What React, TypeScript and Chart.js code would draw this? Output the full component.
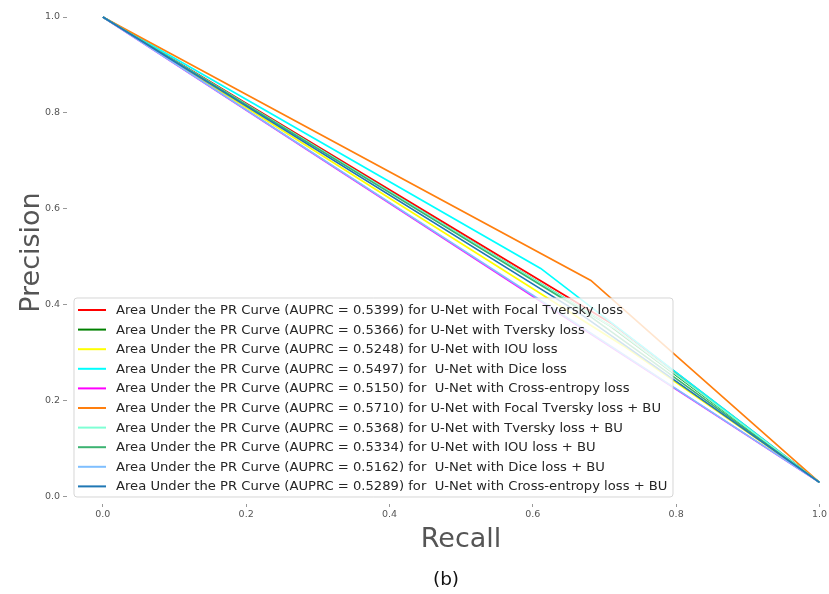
import { useEffect, useRef } from "react";
import { Chart, registerables } from "chart.js";

Chart.register(...registerables);

// Models compared on the precision-recall plane
const modelNames = [
  "U-Net with Focal Tversky loss",
  "U-Net with Tversky loss",
  "U-Net with IOU loss",
  " U-Net with Dice loss",
  " U-Net with Cross-entropy loss",
  "U-Net with Focal Tversky loss + BU",
  "U-Net with Tversky loss + BU",
  "U-Net with IOU loss + BU",
  " U-Net with Dice loss + BU",
  " U-Net with Cross-entropy loss + BU",
];

// Area under each PR curve
const auprcValues = [0.5399, 0.5366, 0.5248, 0.5497, 0.515, 0.571, 0.5368, 0.5334, 0.5162, 0.5289];

// Each curve: (0, 1) -> operating point -> (1, base precision)
const startRecall = 0;
const startPrecision = 1;
const midRecall = [0.711, 0.708, 0.726, 0.611, 0.6, 0.681, 0.715, 0.669, 0.6, 0.662];
const midPrecision = [0.36, 0.356, 0.315, 0.476, 0.418, 0.451, 0.35, 0.388, 0.42, 0.386];
const endRecall = 1;
const endPrecision = 0.03;

const xTicks = [0, 0.2, 0.4, 0.6, 0.8, 1.0];
const yTicks = [0, 0.2, 0.4, 0.6, 0.8, 1.0];

const lineColors = [
  "#ff0000",
  "#008000",
  "#ffff00",
  "#00ffff",
  "#ff00ff",
  "#ff7f0e",
  "#7fffd4",
  "#3cb371",
  "#7fbfff",
  "#1f77b4",
];

const FONT = "'DejaVu Sans', 'Liberation Sans', sans-serif";

const overlayPlugin = {
  id: "prOverlay",
  afterDraw(chart: any) {
    const ctx: CanvasRenderingContext2D = chart.ctx;
    ctx.save();

    // legend box
    const bx = 74, by = 298, bw = 599, bh = 199;
    ctx.beginPath();
    const r = 3;
    ctx.moveTo(bx + r, by);
    ctx.lineTo(bx + bw - r, by);
    ctx.quadraticCurveTo(bx + bw, by, bx + bw, by + r);
    ctx.lineTo(bx + bw, by + bh - r);
    ctx.quadraticCurveTo(bx + bw, by + bh, bx + bw - r, by + bh);
    ctx.lineTo(bx + r, by + bh);
    ctx.quadraticCurveTo(bx, by + bh, bx, by + bh - r);
    ctx.lineTo(bx, by + r);
    ctx.quadraticCurveTo(bx, by, bx + r, by);
    ctx.closePath();
    ctx.fillStyle = "rgba(255,255,255,0.8)";
    ctx.fill();
    ctx.strokeStyle = "rgba(204,204,204,0.8)";
    ctx.lineWidth = 1;
    ctx.stroke();

    ctx.font = `13.15px ${FONT}`;
    ctx.textBaseline = "middle";
    ctx.textAlign = "left";
    chart.data.datasets.forEach((ds: any, i: number) => {
      const y = 310 + i * 19.6;
      ctx.strokeStyle = ds.borderColor;
      ctx.lineWidth = 2;
      ctx.beginPath();
      ctx.moveTo(78, y);
      ctx.lineTo(106, y);
      ctx.stroke();
      ctx.fillStyle = "#262626";
      ctx.fillText(ds.label, 116, y + 0.5);
    });

    // axis titles
    ctx.fillStyle = "#555555";
    ctx.font = `27px ${FONT}`;
    ctx.textAlign = "center";
    ctx.textBaseline = "alphabetic";
    ctx.fillText("Recall", 461, 546.5);

    ctx.save();
    ctx.translate(39, 252.5);
    ctx.rotate(-Math.PI / 2);
    ctx.textBaseline = "alphabetic";
    ctx.fillText("Precision", 0, 0);
    ctx.restore();

    // panel caption
    ctx.fillStyle = "#111111";
    ctx.font = `18.5px ${FONT}`;
    ctx.textBaseline = "middle";
    ctx.fillText("(b)", 446, 580);

    ctx.restore();
  },
};

export default function App() {
  const canvasRef = useRef<HTMLCanvasElement | null>(null);

  useEffect(() => {
    const canvas = canvasRef.current;
    if (!canvas) return;

    // later models are painted over earlier ones
    const datasets = modelNames.map((name, i) => ({
      label: `Area Under the PR Curve (AUPRC = ${auprcValues[i].toFixed(4)}) for ${name}`,
      data: [
        { x: startRecall, y: startPrecision },
        { x: midRecall[i], y: midPrecision[i] },
        { x: endRecall, y: endPrecision },
      ],
      borderColor: lineColors[i],
      backgroundColor: lineColors[i],
      borderWidth: 1.7,
      pointRadius: 0,
      tension: 0,
      fill: false,
      clip: false as const,
      order: modelNames.length - i,
    }));

    const tickFont = { family: FONT, size: 9.5 };

    const chart = new Chart(canvas, {
      type: "line",
      data: { datasets },
      options: {
        responsive: false,
        animation: false,
        devicePixelRatio: 1,
        layout: { padding: { top: 17, right: 9, bottom: 0, left: 0 } },
        plugins: {
          legend: { display: false },
          tooltip: { enabled: false },
        },
        scales: {
          x: {
            type: "linear",
            min: -0.05,
            max: 1.0,
            afterBuildTicks: (s: any) => {
              s.ticks = xTicks.map((v) => ({ value: v }));
            },
            afterFit: (s: any) => {
              s.height = 90;
            },
            ticks: {
              font: tickFont,
              color: "#555555",
              padding: 2,
              autoSkip: false,
              maxRotation: 0,
              callback: (v: any) => Number(v).toFixed(1),
            },
            grid: {
              display: true,
              drawOnChartArea: false,
              drawTicks: true,
              tickLength: 3,
              color: "#999999",
            },
            border: { display: false },
          },
          y: {
            type: "linear",
            min: -0.015,
            max: 1.0,
            afterBuildTicks: (s: any) => {
              s.ticks = yTicks.map((v) => ({ value: v }));
            },
            afterFit: (s: any) => {
              s.width = 67;
            },
            ticks: {
              font: tickFont,
              color: "#555555",
              padding: 3,
              autoSkip: false,
              callback: (v: any) => Number(v).toFixed(1),
            },
            grid: {
              display: true,
              drawOnChartArea: false,
              drawTicks: true,
              tickLength: 4,
              color: "#999999",
            },
            border: { display: false },
          },
        },
      },
      plugins: [overlayPlugin],
    });

    return () => chart.destroy();
  }, []);

  return (
    <div style={{ position: "fixed", left: 0, top: 0, width: 829, height: 594, background: "#ffffff" }}>
      <canvas ref={canvasRef} width={829} height={594} style={{ display: "block" }} />
    </div>
  );
}
